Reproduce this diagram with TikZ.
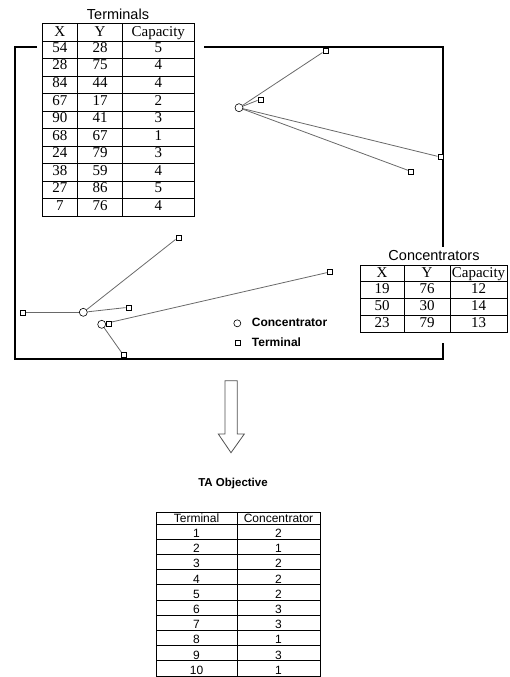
\documentclass[tikz,border=0pt]{standalone}
\usepackage{fontspec}
\setmainfont{Liberation Serif}
\newfontfamily\arialfont{Liberation Sans}
\usetikzlibrary{backgrounds}
\definecolor{linkgray}{RGB}{105,105,105}
\definecolor{arrowgray}{RGB}{80,80,80}

\begin{document}
\begin{tikzpicture}[x=1pt, y=-1pt,
  conc/.style={circle, draw, fill=white, inner sep=0pt, minimum size=8pt, line width=0.6pt},
  term/.style={rectangle, draw, fill=white, inner sep=0pt, minimum size=5pt, line width=0.6pt},
  link/.style={draw=linkgray, line width=0.8pt},
  frame/.style={line width=2pt},
  tabline/.style={line width=0.7pt},
  cell/.style={inner sep=0pt, anchor=base, font=\fontsize{15}{15}\selectfont},
  scell/.style={inner sep=0pt, anchor=base, font=\arialfont\fontsize{12}{12}\selectfont},
  title/.style={inner sep=0pt, anchor=base, font=\arialfont\fontsize{14.5}{14.5}\selectfont}]
\useasboundingbox (0,0) rectangle (509,677);

% frame round the plan
\draw[frame] (37,47) -- (15,47) -- (15,359) -- (443,359) -- (443,343);
\draw[frame] (204,47) -- (443,47) -- (443,247);

% terminals table
\node[title] (termtitle) at (118,20) {Terminals};
\draw[tabline] (42.3,23.3) rectangle (194,216);
\draw[tabline] (77.3,23.3) -- (77.3,216) (122.7,23.3) -- (122.7,216);
\foreach \i in {0,...,9} \draw[tabline] (42.3,{41+17.5*\i}) -- (194,{41+17.5*\i});
\node[cell] (thx) at (59.8,37) {X};
\node[cell] (thy) at (100,37) {Y};
\node[cell] (thc) at (158.3,37) {Capacity};
\foreach \x/\y/\c [count=\i] in {54/28/5,28/75/4,84/44/4,67/17/2,90/41/3,68/67/1,24/79/3,38/59/4,27/86/5,7/76/4} {
  \node[cell] (tx\i) at (59.8,{41+17.5*\i-6}) {\x};
  \node[cell] (ty\i) at (100,{41+17.5*\i-6}) {\y};
  \node[cell] (tc\i) at (158.3,{41+17.5*\i-6}) {\c};
}

% concentrators table
\node[title] (conctitle) at (434,260) {Concentrators};
\draw[tabline] (360,265) rectangle (507,332);
\draw[tabline] (404,265) -- (404,332) (450,265) -- (450,332);
\foreach \i in {0,1,2} \draw[tabline] (360,{281+17*\i}) -- (507,{281+17*\i});
\node[cell] (chx) at (382,277.5) {X};
\node[cell] (chy) at (427,277.5) {Y};
\node[cell] (chc) at (478.5,277.5) {Capacity};
\foreach \x/\y/\c [count=\i] in {19/76/12,50/30/14,23/79/13} {
  \node[cell] (cx\i) at (382,{281+17*\i-5}) {\x};
  \node[cell] (cy\i) at (427,{281+17*\i-5}) {\y};
  \node[cell] (cc\i) at (478.5,{281+17*\i-5}) {\c};
}

% plan
\node[conc] (c1) at (83.3,312.3) {};
\node[conc] (c2) at (239,107.7) {};
\node[conc] (c3) at (101.7,324.3) {};
\node[term] (t1) at (260.3,99.3) {};
\node[term] (t2) at (128.3,307.3) {};
\node[term] (t3) at (410.7,171.3) {};
\node[term] (t4) at (325.3,50.7) {};
\node[term] (t5) at (440.3,157) {};
\node[term] (t6) at (329.7,272) {};
\node[term] (t7) at (108.3,324) {};
\node[term] (t8) at (178.3,237.3) {};
\node[term] (t9) at (123.3,355) {};
\node[term] (t10) at (22.7,312.3) {};
\begin{scope}[on background layer]
\foreach \c/\t in {c1/t2,c1/t8,c1/t10,c2/t1,c2/t3,c2/t4,c2/t5,c3/t6,c3/t7,c3/t9}
  \draw[link] (\c) -- (\t);
\end{scope}

% legend
\node[conc, minimum size=7pt] (lgconc) at (237.3,323.3) {};
\node[term] (lgterm) at (237.3,342.7) {};
\node[inner sep=0pt, anchor=base west, font=\arialfont\bfseries\fontsize{12}{12}\selectfont] (lgconctext) at (251.7,326.7) {Concentrator};
\node[inner sep=0pt, anchor=base west, font=\arialfont\bfseries\fontsize{12}{12}\selectfont] (lgtermtext) at (251.7,346.5) {Terminal};

% big arrow
\draw[arrowgray, line width=0.8pt] (225,380.7) -- (237.3,380.7) -- (237.3,434) -- (244.3,434)
  -- (231,452.7) -- (218.3,434) -- (225,434) -- cycle;

% assignment table
\node[inner sep=0pt, anchor=base, font=\arialfont\bfseries\fontsize{11.5}{11.5}\selectfont] (objtitle) at (233,486.7) {TA Objective};
\draw[tabline] (156,512) rectangle (320,676);
\draw[tabline] (237,512) -- (237,676);
\foreach \i in {0,...,9} \draw[tabline] (156,{524+15.2*\i}) -- (320,{524+15.2*\i});
\node[scell] (ahterm) at (196.5,522.5) {Terminal};
\node[scell] (ahconc) at (278.5,522.5) {Concentrator};
\foreach \c [count=\i] in {2,1,2,2,2,3,3,1,3,1} {
  \node[scell] (at\i) at (196.5,{524+15.2*\i-1.7}) {\i};
  \node[scell] (ac\i) at (278.5,{524+15.2*\i-1.7}) {\c};
}
\end{tikzpicture}
\end{document}
